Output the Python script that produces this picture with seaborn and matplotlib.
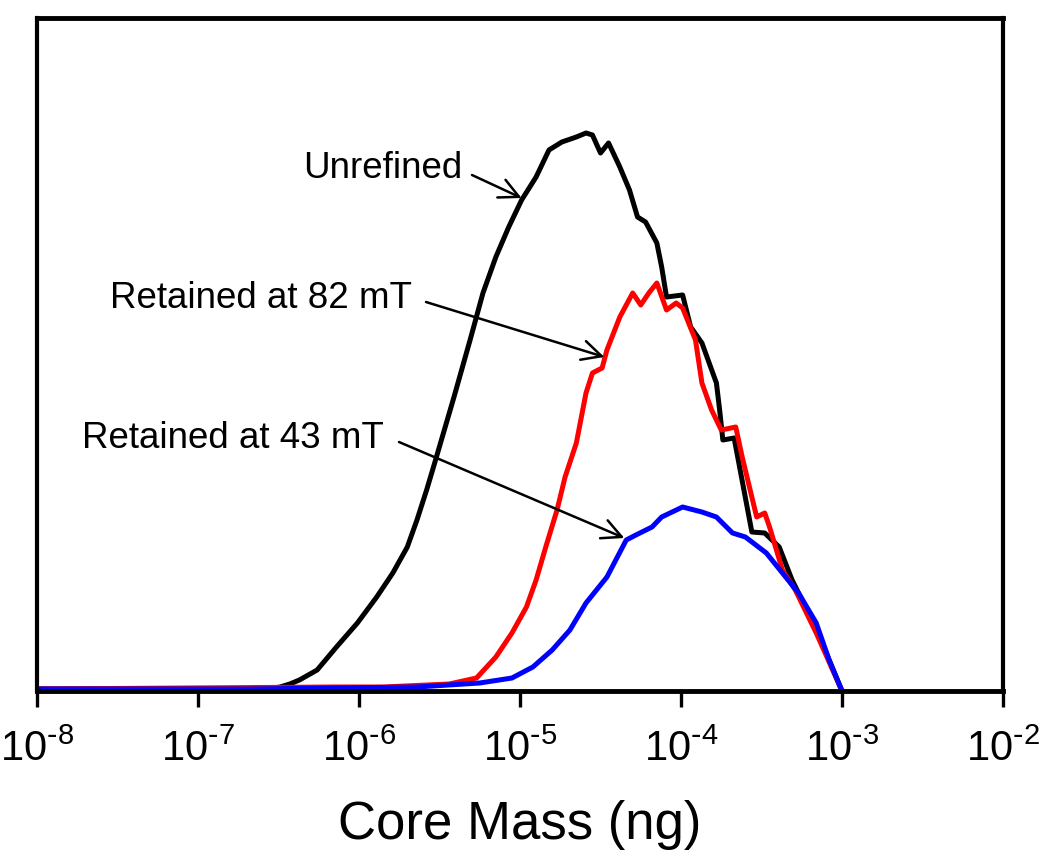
import numpy as np
import pandas as pd
import matplotlib
matplotlib.use("Agg")
import matplotlib.pyplot as plt
from matplotlib.ticker import FuncFormatter, NullLocator, FixedLocator
import seaborn as sns

# ---- data (log10 of core mass in ng, relative frequency) ----
unrefined_logm = [-8.00, -6.57, -6.49, -6.43, -6.37, -6.26, -6.14, -6.01, -5.89, -5.79, -5.70,
                  -5.64, -5.58, -5.53, -5.41, -5.31, -5.23, -5.15, -5.07, -4.99, -4.90,
                  -4.82, -4.74, -4.65, -4.59, -4.55, -4.50, -4.45, -4.38, -4.32, -4.27,
                  -4.22, -4.15, -4.12, -4.09, -3.99, -3.94, -3.87, -3.78, -3.76, -3.74,
                  -3.67, -3.56, -3.48, -3.39, -3.31, -3.27, -3.16, -3.08, -3.00]
unrefined_freq = [2, 2, 4, 7, 11, 21, 44, 68, 94, 118, 144,
                  171, 201, 228, 294, 351, 398, 434, 464, 491, 514,
                  541, 549, 554, 558, 556, 538, 548, 524, 501, 474,
                  469, 448, 424, 394, 396, 364, 348, 308, 281, 251,
                  253, 159, 158, 144, 111, 98, 63, 31, 0]

r82_logm = [-8.00, -6.16, -5.85, -5.44, -5.27, -5.15, -5.05, -4.96, -4.90, -4.84,
            -4.77, -4.72, -4.65, -4.59, -4.55, -4.49, -4.46, -4.38, -4.30, -4.25,
            -4.20, -4.15, -4.09, -4.03, -3.99, -3.91, -3.87, -3.81, -3.75, -3.66,
            -3.62, -3.53, -3.48, -3.45, -3.37, -3.29, -3.16, -3.00]
r82_freq = [2, 4, 4, 7, 13, 34, 58, 84, 111, 144,
            181, 214, 248, 298, 318, 323, 341, 374, 398, 386,
            398, 408, 381, 388, 383, 351, 308, 281, 261, 264,
            234, 174, 178, 164, 121, 101, 58, 0]

r43_logm = [-8.00, -6.68, -5.64, -5.25, -5.05, -4.92, -4.80, -4.69, -4.59, -4.46,
            -4.34, -4.28, -4.18, -4.12, -3.99, -3.87, -3.78, -3.68, -3.60, -3.47,
            -3.37, -3.27, -3.16, -3.08, -3.00]
r43_freq = [2, 2, 4, 8, 13, 24, 41, 61, 88, 114,
            151, 156, 164, 174, 184, 179, 174, 158, 154, 138,
            118, 98, 68, 31, 0]

series_names = ["Unrefined", "Retained at 82 mT", "Retained at 43 mT"]
series_colors = ["#000000", "#ff0000", "#0000ff"]
tick_values = [1e-8, 1e-7, 1e-6, 1e-5, 1e-4, 1e-3, 1e-2]
x_label = "Core Mass (ng)"

frames = []
for name, lm, fr in zip(series_names,
                        [unrefined_logm, r82_logm, r43_logm],
                        [unrefined_freq, r82_freq, r43_freq]):
    frames.append(pd.DataFrame({"mass": 10.0 ** np.array(lm), "freq": fr, "series": name}))
df = pd.concat(frames, ignore_index=True)

# ---- style ----
sns.set_style("white")
plt.rcParams["font.family"] = ["Liberation Sans", "DejaVu Sans"]
plt.rcParams["mathtext.default"] = "regular"
plt.rcParams["axes.unicode_minus"] = False
plt.rcParams["text.color"] = "black"
plt.rcParams["axes.labelcolor"] = "black"
plt.rcParams["xtick.color"] = "black"

fig = plt.figure(figsize=(10.5, 8.66), dpi=100)
ax = fig.add_axes([37 / 1050, 1 - 691 / 866, (1003 - 37) / 1050, (691 - 18) / 866])

sns.lineplot(data=df, x="mass", y="freq", hue="series", hue_order=series_names,
             palette=dict(zip(series_names, series_colors)), estimator=None,
             sort=False, linewidth=3.6, legend=False, ax=ax)

ax.set_xscale("log")
ax.set_xlim(1e-8, 1e-2)
ax.set_ylim(0, 673)
ax.xaxis.set_major_locator(FixedLocator(tick_values))
ax.xaxis.set_minor_locator(NullLocator())


def fmt(v, pos):
    e = int(round(np.log10(v)))
    return r"$10^{\text{-}%d}$" % abs(e)


ax.xaxis.set_major_formatter(FuncFormatter(fmt))
ax.set_yticks([])
ax.set_ylabel("")
ax.tick_params(axis="x", direction="out", length=11.5, width=2.4, labelsize=30,
               pad=16, color="black", labelcolor="black", bottom=True)
ax.set_xlabel(x_label, fontsize=38, labelpad=22, color="black")

for side, lw in [("top", 3.5), ("bottom", 3.5), ("left", 3.0), ("right", 3.0)]:
    ax.spines[side].set_visible(True)
    ax.spines[side].set_color("black")
    ax.spines[side].set_linewidth(lw)

# ---- annotations ----
W, H = 1050, 866
labels = [
    ("Unrefined", (303, 178), (472, 175), (-4.99, 493)),
    ("Retained at 82 mT", (110, 308), (426, 302), (-4.476, 334)),
    ("Retained at 43 mT", (82, 448), (399, 442), (-4.352, 153)),
]
for text, (tx, ty), (ax_, ay_), (lx, yv) in labels:
    fig.text(tx / W, 1 - ty / H, text, fontsize=26.5, ha="left", va="baseline",
             color="black")
    ax.annotate("", xy=(10 ** lx, yv), xycoords="data",
                xytext=(ax_ / W, 1 - ay_ / H), textcoords="figure fraction",
                arrowprops=dict(arrowstyle="->,head_length=0.7,head_width=0.35",
                                color="black", lw=1.8, mutation_scale=20,
                                shrinkA=0, shrinkB=0))

fig.savefig("out.png", dpi=100)
